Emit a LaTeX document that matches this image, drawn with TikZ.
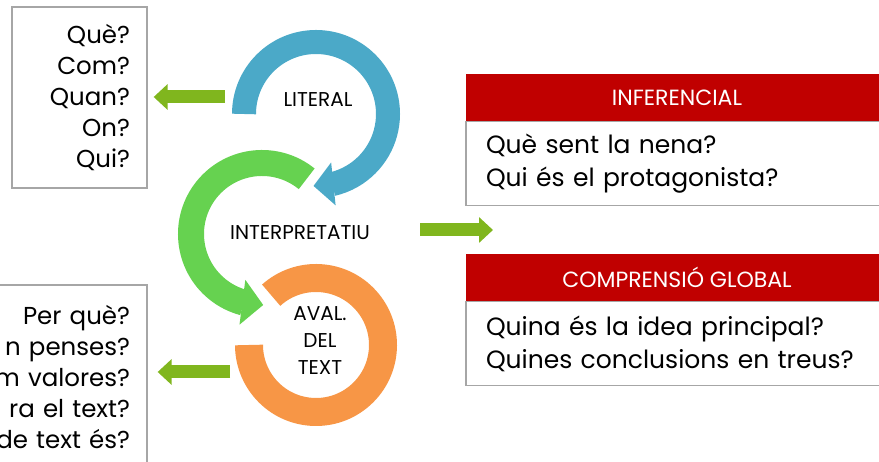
\documentclass[tikz,border=0pt]{standalone}
\usepackage{fontspec}
\setmainfont{Poppins}
\usetikzlibrary{arrows.meta, bending, positioning}

\definecolor{litblue}{HTML}{4BA9C8}
\definecolor{intgreen}{HTML}{66D250}
\definecolor{avalorange}{HTML}{F79646}
\definecolor{arrowgreen}{HTML}{80B61E}
\definecolor{headred}{HTML}{C00000}
\definecolor{boxgray}{HTML}{A6A6A6}

\begin{document}
\begin{tikzpicture}[x=1pt,y=1pt,
    question box/.style={draw=boxgray,line width=1.3pt,fill=white,align=right,inner xsep=17pt,
        font=\fontsize{24.5}{31}\selectfont},
    head node/.style={fill=headred,text=white,minimum width=422pt,minimum height=47pt,inner sep=0pt,
        font=\fontsize{22}{22}\selectfont},
    body node/.style={draw=boxgray,line width=1.3pt,fill=white,text width=382pt,align=left,inner xsep=20pt,
        minimum height=84pt,font=\fontsize{25}{33}\selectfont},
    ring label/.style={align=center,font=\fontsize{20}{27}\selectfont},
    ring/.style={line width=#1},
    small arrow/.style={arrowgreen,line width=13pt,-{Triangle[length=14pt,width=25pt]}}]

\useasboundingbox (0,0) rectangle (879,462);
\clip (0,0) rectangle (879,462);

% question boxes on the left
\node[question box,text width=101pt,minimum height=181pt] (qlit) at (79.5,364.5)
    {Què?\\Com?\\Quan?\\On?\\Qui?};
\node[question box,text width=173pt,minimum height=184pt] (qaval) at (43.5,85)
    {Per què?\\n penses?\\m valores?\\ra el text?\\de text és?};

% the three levels
\coordinate (litc) at (316,348);
\coordinate (intc) at (262,228);
\coordinate (avalc) at (316,117);

\draw[ring=26pt,intgreen,-{Triangle[length=21pt,width=44pt]}]
    (intc) ++(51:71) arc[start angle=51,end angle=271,radius=71];
\draw[ring=24pt,litblue,-{Triangle[length=20pt,width=42pt]}]
    (litc) ++(180:72) arc[start angle=180,end angle=-92,radius=72];
\draw[ring=28pt,avalorange]
    (avalc) ++(132:67) arc[start angle=132,end angle=-180,radius=67];

\node[ring label] (lit) at (318,362) {LITERAL};
\node[ring label] (int) at (300,229) {INTERPRETATIU};
\node[ring label] (aval) at (320,121) {AVAL.\\DEL\\TEXT};

% boxes on the right
\node[head node] (inf) at (677,364.5) {INFERENCIAL};
\node[body node,below=0pt of inf] (infq) {Què sent la nena?\\Qui és el protagonista?};
\node[head node,below=47pt of infq] (glob) {COMPRENSIÓ GLOBAL};
\node[body node,below=0pt of glob] (globq) {Quina és la idea principal?\\Quines conclusions en treus?};

% arrows
\coordinate (litout) at (225,365);
\coordinate (avalout) at (230,90);
\coordinate (intout) at (420,232);
\coordinate (intend) at (493,232);

\path
(litout) edge[small arrow,shorten >=6pt] (qlit.east |- litout)
(avalout) edge[small arrow,shorten >=10pt] (qaval.east |- avalout)
(intout) edge[small arrow] (intend);
\end{tikzpicture}
\end{document}
